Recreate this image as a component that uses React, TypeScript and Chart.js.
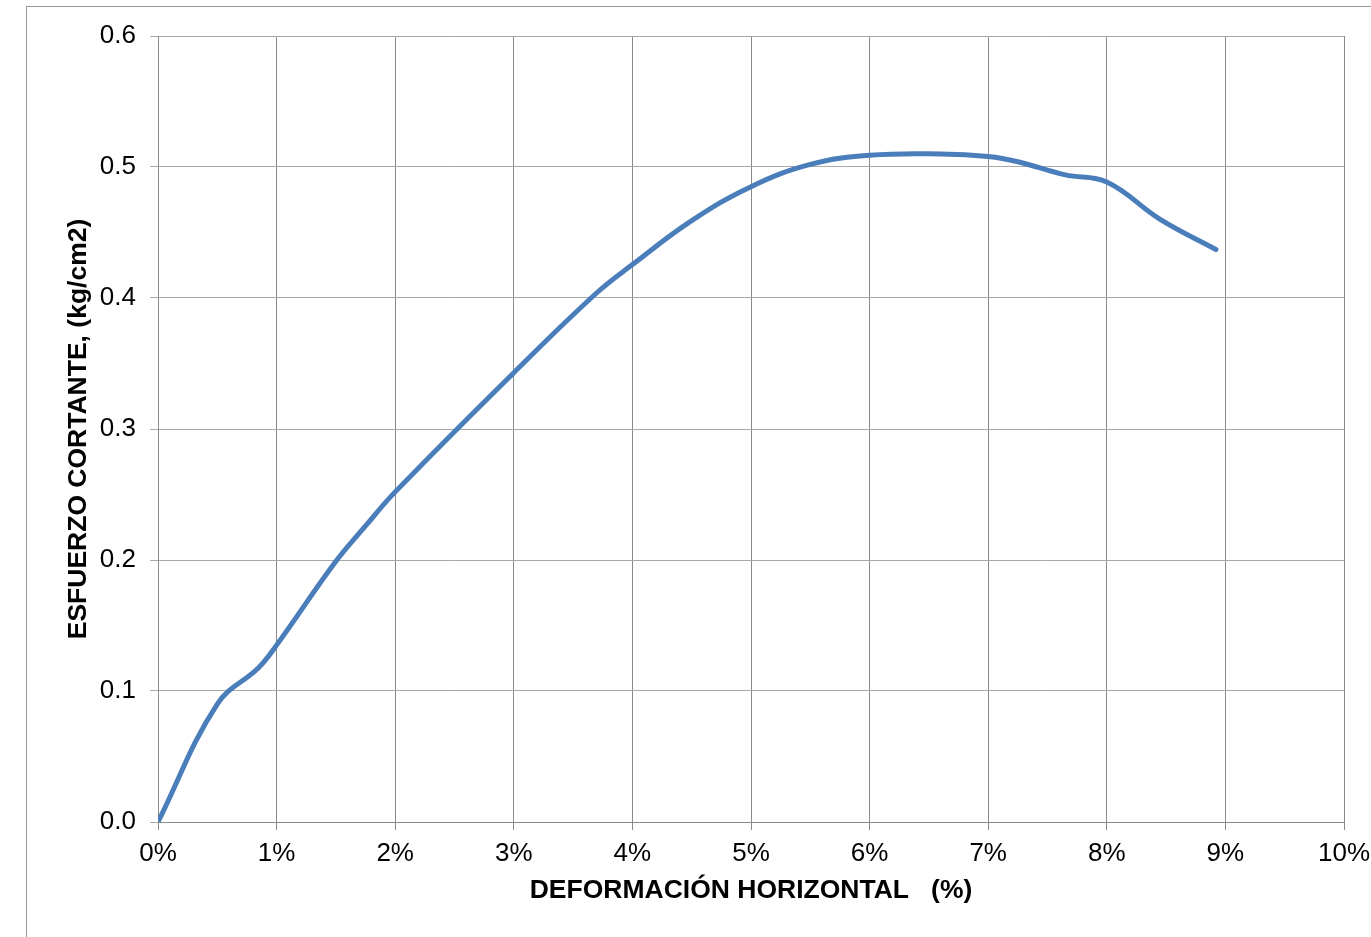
import { useEffect, useRef } from "react";
import { Chart, registerables } from "chart.js";

Chart.register(...registerables);

// Deformación horizontal (%)
const strainPct = [0, 0.5, 0.85, 1.0, 1.5, 1.75, 2.0, 3.0, 3.7, 4.0, 4.5, 5.0, 5.5, 6.0, 6.6, 7.0, 7.25, 7.65, 8.0, 8.45, 8.92];
// Esfuerzo cortante (kg/cm2)
const shearStress = [0, 0.09, 0.118, 0.135, 0.199, 0.226, 0.252, 0.343, 0.404, 0.4255, 0.459, 0.485, 0.502, 0.509, 0.51, 0.508, 0.504, 0.494, 0.4885, 0.46, 0.437];

const xTicks = [0, 1, 2, 3, 4, 5, 6, 7, 8, 9, 10];
const yTicks = [0, 0.1, 0.2, 0.3, 0.4, 0.5, 0.6];

const xTitle = "DEFORMACIÓN HORIZONTAL   (%)";
const yTitle = "ESFUERZO CORTANTE, (kg/cm2)";

const FONT = "'Liberation Sans', Arial, sans-serif";

export default function App() {
  const ref = useRef<HTMLCanvasElement | null>(null);

  useEffect(() => {
    if (!ref.current) return;
    const chart = new Chart(ref.current, {
      type: "line",
      data: {
        datasets: [
          {
            data: strainPct.map((x, i) => ({ x, y: shearStress[i] })),
            borderColor: "#4a7ebb",
            borderWidth: 5,
            pointRadius: 0,
            tension: 0.4,
            fill: false,
            borderCapStyle: "round",
          },
        ],
      },
      options: {
        responsive: false,
        animation: false,
        layout: { padding: { left: 0, right: 27, top: 36, bottom: 0 } },
        plugins: { legend: { display: false }, tooltip: { enabled: false } },
        scales: {
          x: {
            type: "linear",
            min: 0,
            max: 10,
            afterBuildTicks: (s: any) => {
              s.ticks = xTicks.map((v) => ({ value: v }));
            },
            afterFit: (s: any) => {
              s.height = 115;
              s.paddingLeft = 0;
              s.paddingRight = 0;
            },
            ticks: {
              color: "#000",
              font: { family: FONT, size: 26 },
              padding: 8,
              maxRotation: 0,
              callback: (v: any) => `${v}%`,
            },
            grid: { color: "#8a8a8a", lineWidth: 1, tickLength: 8 },
            border: { color: "#8a8a8a" },
            title: {
              display: true,
              text: xTitle,
              color: "#000",
              font: { family: FONT, size: 26.5, weight: "bold" },
              padding: 30,
            },
          },
          y: {
            type: "linear",
            min: 0,
            max: 0.6,
            afterBuildTicks: (s: any) => {
              s.ticks = yTicks.map((v) => ({ value: v }));
            },
            afterFit: (s: any) => {
              s.width = 158;
              s.paddingTop = 0;
              s.paddingBottom = 0;
            },
            ticks: {
              color: "#000",
              font: { family: FONT, size: 26 },
              padding: 14,
              callback: (v: any) => Number(v).toFixed(1),
            },
            grid: { color: "#a8a8a8", lineWidth: 1, tickLength: 8 },
            border: { color: "#8a8a8a" },
            title: {
              display: true,
              text: yTitle,
              color: "#000",
              font: { family: FONT, size: 26.5, weight: "bold" },
              padding: 63,
            },
          },
        },
      },
    } as any);
    return () => chart.destroy();
  }, []);

  return (
    <div style={{ position: "absolute", left: 0, top: 0, width: 1371, height: 937, background: "#fff", overflow: "hidden" }}>
      <div
        style={{
          position: "absolute",
          left: 26,
          top: 6,
          width: 1400,
          height: 1000,
          borderLeft: "1px solid #9a9a9a",
          borderTop: "1px solid #9a9a9a",
        }}
      />
      <canvas ref={ref} width={1371} height={937} style={{ position: "absolute", left: 0, top: 0, width: 1371, height: 937 }} />
    </div>
  );
}
